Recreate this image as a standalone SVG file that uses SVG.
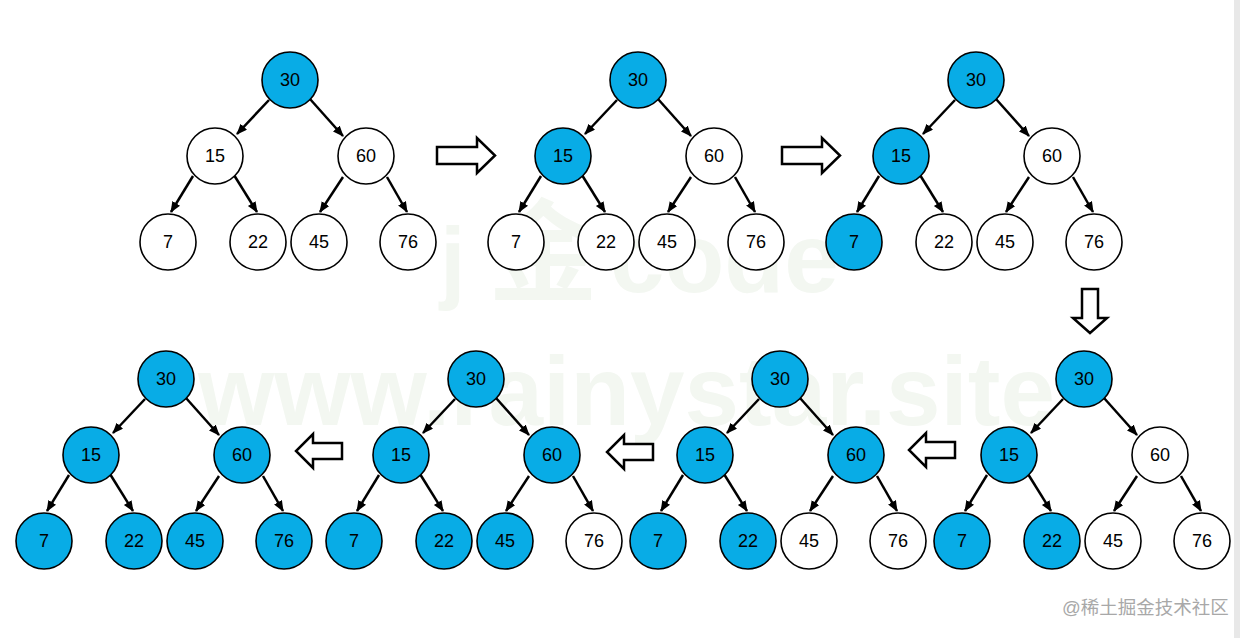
<svg xmlns="http://www.w3.org/2000/svg" width="1240" height="638" viewBox="0 0 1240 638">
<style>
.wm{font-family:"Liberation Sans",Arial,sans-serif;font-weight:bold;fill:#f3f7f1}
.n circle{stroke:#000;stroke-width:1.6}
.b circle{fill:#08ace6}
.w circle{fill:#fff}
.n text{font-family:"Liberation Sans",Arial,sans-serif;font-size:18px;fill:#000;text-anchor:middle;dominant-baseline:central}
.e{stroke:#000;stroke-width:2.5;fill:none;marker-end:url(#ah)}
.ha{fill:#fff;stroke:#000;stroke-width:2.5;stroke-linejoin:miter}
</style>
<defs>
<marker id="ah" markerUnits="userSpaceOnUse" markerWidth="12" markerHeight="10" refX="10" refY="4.5" orient="auto">
<path d="M0,0 L11,4.5 L0,9 z" fill="#000"/>
</marker>
<g id="edges">
<path class="e" d="M-21,20 L-53,54"/>
<path class="e" d="M20,19 L53,56"/>
<path class="e" d="M-97,96 L-119,132"/>
<path class="e" d="M-56,95 L-33,132"/>
<path class="e" d="M53,97 L30,132"/>
<path class="e" d="M97,97 L117,132"/>
</g>
</defs>
<rect width="1240" height="638" fill="#fff"/>
<rect x="1234" y="0" width="6" height="638" fill="#e8e8e8"/>
<g id="watermark">
<text class="wm" x="440" y="292" font-size="92">j</text>
<text class="wm" x="488" y="292" font-size="110" style="font-family:'Noto Sans CJK SC',sans-serif;font-weight:bold">金</text>
<text class="wm" x="610" y="292" font-size="98">code</text>
<text class="wm" x="198" y="425" font-size="98">www.rainystar.site</text>
</g>
<g id="connectors">
<use href="#edges" transform="translate(290,80)"/>
<use href="#edges" transform="translate(638,80)"/>
<use href="#edges" transform="translate(976,80)"/>
<use href="#edges" transform="translate(1084,379)"/>
<use href="#edges" transform="translate(780,379)"/>
<use href="#edges" transform="translate(476,379)"/>
<use href="#edges" transform="translate(166,379)"/>
<polygon class="ha" points="437,147 477,147 477,138 495,155.5 477,173 477,164 437,164"/>
<polygon class="ha" points="782,147 822,147 822,138 840,155.5 822,173 822,164 782,164"/>
<polygon class="ha" points="1082,289 1098,289 1098,318 1107,318 1090,333 1073,318 1082,318"/>
<polygon class="ha" points="342,443 313,443 313,434 296,451 313,468 313,459 342,459"/>
<polygon class="ha" points="653,444 624,444 624,435 607,452 624,469 624,460 653,460"/>
<polygon class="ha" points="955,442 926,442 926,433 909,450 926,467 926,458 955,458"/>
</g>
<g id="tree1" transform="translate(290,80)">
<g id="t1-30" class="n b"><circle r="28"/><text>30</text></g>
<g id="t1-15" class="n w"><circle cx="-75" cy="76" r="28"/><text x="-75" y="76">15</text></g>
<g id="t1-60" class="n w"><circle cx="76" cy="76" r="28"/><text x="76" y="76">60</text></g>
<g id="t1-7" class="n w"><circle cx="-122" cy="162" r="28"/><text x="-122" y="162">7</text></g>
<g id="t1-22" class="n w"><circle cx="-32" cy="162" r="28"/><text x="-32" y="162">22</text></g>
<g id="t1-45" class="n w"><circle cx="29" cy="162" r="28"/><text x="29" y="162">45</text></g>
<g id="t1-76" class="n w"><circle cx="118" cy="162" r="28"/><text x="118" y="162">76</text></g>
</g>
<g id="tree2" transform="translate(638,80)">
<g id="t2-30" class="n b"><circle r="28"/><text>30</text></g>
<g id="t2-15" class="n b"><circle cx="-75" cy="76" r="28"/><text x="-75" y="76">15</text></g>
<g id="t2-60" class="n w"><circle cx="76" cy="76" r="28"/><text x="76" y="76">60</text></g>
<g id="t2-7" class="n w"><circle cx="-122" cy="162" r="28"/><text x="-122" y="162">7</text></g>
<g id="t2-22" class="n w"><circle cx="-32" cy="162" r="28"/><text x="-32" y="162">22</text></g>
<g id="t2-45" class="n w"><circle cx="29" cy="162" r="28"/><text x="29" y="162">45</text></g>
<g id="t2-76" class="n w"><circle cx="118" cy="162" r="28"/><text x="118" y="162">76</text></g>
</g>
<g id="tree3" transform="translate(976,80)">
<g id="t3-30" class="n b"><circle r="28"/><text>30</text></g>
<g id="t3-15" class="n b"><circle cx="-75" cy="76" r="28"/><text x="-75" y="76">15</text></g>
<g id="t3-60" class="n w"><circle cx="76" cy="76" r="28"/><text x="76" y="76">60</text></g>
<g id="t3-7" class="n b"><circle cx="-122" cy="162" r="28"/><text x="-122" y="162">7</text></g>
<g id="t3-22" class="n w"><circle cx="-32" cy="162" r="28"/><text x="-32" y="162">22</text></g>
<g id="t3-45" class="n w"><circle cx="29" cy="162" r="28"/><text x="29" y="162">45</text></g>
<g id="t3-76" class="n w"><circle cx="118" cy="162" r="28"/><text x="118" y="162">76</text></g>
</g>
<g id="tree4" transform="translate(1084,379)">
<g id="t4-30" class="n b"><circle r="28"/><text>30</text></g>
<g id="t4-15" class="n b"><circle cx="-75" cy="76" r="28"/><text x="-75" y="76">15</text></g>
<g id="t4-60" class="n w"><circle cx="76" cy="76" r="28"/><text x="76" y="76">60</text></g>
<g id="t4-7" class="n b"><circle cx="-122" cy="162" r="28"/><text x="-122" y="162">7</text></g>
<g id="t4-22" class="n b"><circle cx="-32" cy="162" r="28"/><text x="-32" y="162">22</text></g>
<g id="t4-45" class="n w"><circle cx="29" cy="162" r="28"/><text x="29" y="162">45</text></g>
<g id="t4-76" class="n w"><circle cx="118" cy="162" r="28"/><text x="118" y="162">76</text></g>
</g>
<g id="tree5" transform="translate(780,379)">
<g id="t5-30" class="n b"><circle r="28"/><text>30</text></g>
<g id="t5-15" class="n b"><circle cx="-75" cy="76" r="28"/><text x="-75" y="76">15</text></g>
<g id="t5-60" class="n b"><circle cx="76" cy="76" r="28"/><text x="76" y="76">60</text></g>
<g id="t5-7" class="n b"><circle cx="-122" cy="162" r="28"/><text x="-122" y="162">7</text></g>
<g id="t5-22" class="n b"><circle cx="-32" cy="162" r="28"/><text x="-32" y="162">22</text></g>
<g id="t5-45" class="n w"><circle cx="29" cy="162" r="28"/><text x="29" y="162">45</text></g>
<g id="t5-76" class="n w"><circle cx="118" cy="162" r="28"/><text x="118" y="162">76</text></g>
</g>
<g id="tree6" transform="translate(476,379)">
<g id="t6-30" class="n b"><circle r="28"/><text>30</text></g>
<g id="t6-15" class="n b"><circle cx="-75" cy="76" r="28"/><text x="-75" y="76">15</text></g>
<g id="t6-60" class="n b"><circle cx="76" cy="76" r="28"/><text x="76" y="76">60</text></g>
<g id="t6-7" class="n b"><circle cx="-122" cy="162" r="28"/><text x="-122" y="162">7</text></g>
<g id="t6-22" class="n b"><circle cx="-32" cy="162" r="28"/><text x="-32" y="162">22</text></g>
<g id="t6-45" class="n b"><circle cx="29" cy="162" r="28"/><text x="29" y="162">45</text></g>
<g id="t6-76" class="n w"><circle cx="118" cy="162" r="28"/><text x="118" y="162">76</text></g>
</g>
<g id="tree7" transform="translate(166,379)">
<g id="t7-30" class="n b"><circle r="28"/><text>30</text></g>
<g id="t7-15" class="n b"><circle cx="-75" cy="76" r="28"/><text x="-75" y="76">15</text></g>
<g id="t7-60" class="n b"><circle cx="76" cy="76" r="28"/><text x="76" y="76">60</text></g>
<g id="t7-7" class="n b"><circle cx="-122" cy="162" r="28"/><text x="-122" y="162">7</text></g>
<g id="t7-22" class="n b"><circle cx="-32" cy="162" r="28"/><text x="-32" y="162">22</text></g>
<g id="t7-45" class="n b"><circle cx="29" cy="162" r="28"/><text x="29" y="162">45</text></g>
<g id="t7-76" class="n b"><circle cx="118" cy="162" r="28"/><text x="118" y="162">76</text></g>
</g>
<text x="1062" y="614" font-size="18.5" fill="#a8a8a8" style="font-family:'Liberation Sans','Noto Sans CJK SC',sans-serif">@稀土掘金技术社区</text>
</svg>
